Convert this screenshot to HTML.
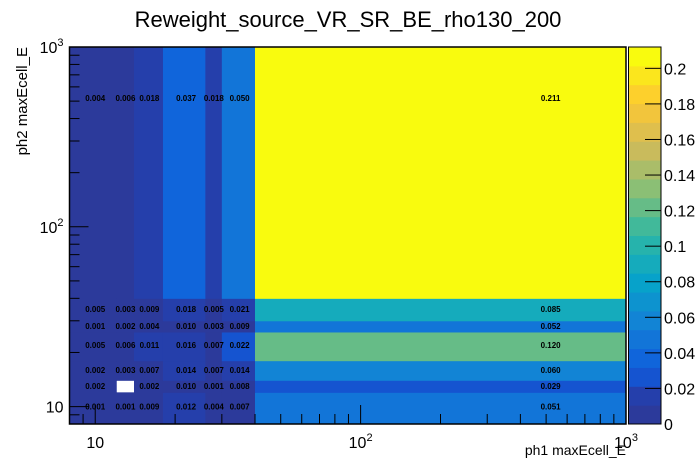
<!DOCTYPE html>
<html><head><meta charset="utf-8"><style>
body{margin:0;background:#fff;}
svg{display:block;font-family:"Liberation Sans",sans-serif;}
</style></head><body>
<svg id="c" width="696" height="472"></svg>
<script>
const xEdges=[8,12,14,18,26,30,40,1000];
const yEdges=[8,12,14,18,26,30,40,1000];
// rows bottom->top, cols left->right
const values=[
[0.001,0.001,0.009,0.012,0.004,0.007,0.051],
[0.002,0,0.002,0.010,0.001,0.008,0.029],
[0.002,0.003,0.007,0.014,0.007,0.014,0.060],
[0.005,0.006,0.011,0.016,0.007,0.022,0.120],
[0.001,0.002,0.004,0.010,0.003,0.009,0.052],
[0.005,0.003,0.009,0.018,0.005,0.021,0.085],
[0.004,0.006,0.018,0.037,0.018,0.050,0.211]];
const zTicks=[0,0.02,0.04,0.06,0.08,0.1,0.12,0.14,0.16,0.18,0.2];
const zMax=0.212;
const NS="http://www.w3.org/2000/svg";
const svg=document.getElementById('c');
const L=69.5,R=626,T=47,B=424;
const lx0=Math.log10(8),lx1=3;
function X(v){return L+(Math.log10(v)-lx0)/(lx1-lx0)*(R-L);}
function Y(v){return B-(Math.log10(v)-lx0)/(lx1-lx0)*(B-T);}
const PL=628.5,PR=661;
function Z(v){return B-v/zMax*(B-T);}
const st=[0,0.125,0.25,0.375,0.5,0.625,0.75,0.875,1];
const rr=[0.2082,0.0592,0.0780,0.0232,0.1802,0.5301,0.8186,0.9956,0.9764];
const gg=[0.1664,0.3599,0.5041,0.6419,0.7178,0.7492,0.7328,0.7862,0.9832];
const bb=[0.5293,0.8684,0.8385,0.7914,0.6425,0.4662,0.3499,0.1968,0.0539];
function bird(t){if(t<=0)return 'rgb(44,58,155)';let i=0;while(i<7&&t>st[i+1])i++;const f=(t-st[i])/(st[i+1]-st[i]);
const c=a=>Math.round(255*(a[i]+(a[i+1]-a[i])*f));return `rgb(${c(rr)},${c(gg)},${c(bb)})`;}
const NL=20;
function col(v){let k=Math.min(NL-1,Math.floor(v/zMax*NL));return bird(k/(NL-1));}
function el(t,a,p){const e=document.createElementNS(NS,t);for(const k in a)e.setAttribute(k,a[k]);(p||svg).appendChild(e);return e;}
values.forEach((row,j)=>row.forEach((v,i)=>{
 if(v<=0)return;
 const e=el('rect',{x:X(xEdges[i]),y:Y(yEdges[j+1]),width:X(xEdges[i+1])-X(xEdges[i])+0.5,height:Y(yEdges[j])-Y(yEdges[j+1])+0.5,fill:col(v)});
 
 
}));
values.forEach((row,j)=>row.forEach((v,i)=>{
 if(v<=0)return;
 const cx=X((xEdges[i]+xEdges[i+1])/2),cy=Y((yEdges[j]+yEdges[j+1])/2);
 const t=el('text',{x:cx,y:cy+3,'text-anchor':'middle','font-size':'8','font-weight':'bold',fill:'#000'});
 t.textContent=v.toFixed(3);
 
 
}));
const fr=el('rect',{x:L,y:T,width:R-L,height:B-T,fill:'none',stroke:'#000','stroke-width':1.5});

const ticks=[];
for(let d=1;d<=1000;d*=10)for(let m=1;m<10;m++){const v=d*m;if(v>=8&&v<=1000)ticks.push(v);}
ticks.forEach(v=>{
 const maj=[10,100,1000].includes(v);const len=maj?19:10;
 el('line',{x1:X(v),x2:X(v),y1:B,y2:B-len,stroke:'#000'});
 el('line',{x1:L,x2:L+len,y1:Y(v),y2:Y(v),stroke:'#000'});
});
const majLab=[[10,'10',''],[100,'10','2'],[1000,'10','3']];
majLab.forEach(([v,b,s])=>{
 const t=el('text',{x:X(v),y:B+24,'text-anchor':'middle','font-size':'16'});
 t.innerHTML=b+(s?'<tspan dy="-7" font-size="11">'+s+'</tspan>':'');
 
 const u=el('text',{x:L-6,y:Y(v)+6,'text-anchor':'end','font-size':'16'});
 u.innerHTML=b+(s?'<tspan dy="-7" font-size="11">'+s+'</tspan>':'');
 
});
for(let k=0;k<NL;k++){
 const e=el('rect',{x:PL,y:Z((k+1)*zMax/NL),width:PR-PL,height:(B-T)/NL+0.5,fill:bird(k/(NL-1))});
 
}
el('rect',{x:PL,y:T,width:PR-PL,height:B-T,fill:'none',stroke:'#000'});
zTicks.forEach(v=>{
 el('line',{x1:PR-16,x2:PR,y1:Z(v),y2:Z(v),stroke:'#000'});
 const t=el('text',{x:PR+3,y:Z(v)+6,'font-size':'16'});
 t.textContent=String(v);
 
});
const ti=el('text',{x:348,y:27,'text-anchor':'middle','font-size':'22'});
ti.textContent='Reweight_source_VR_SR_BE_rho130_200';

const xt=el('text',{x:626,y:455,'text-anchor':'end','font-size':'14'});
xt.textContent='ph1 maxEcell_E';

const yt=el('text',{x:0,y:0,'text-anchor':'end','font-size':'15',transform:'translate(27,47) rotate(-90)'});
yt.textContent='ph2 maxEcell_E';

</script>
</body></html>
